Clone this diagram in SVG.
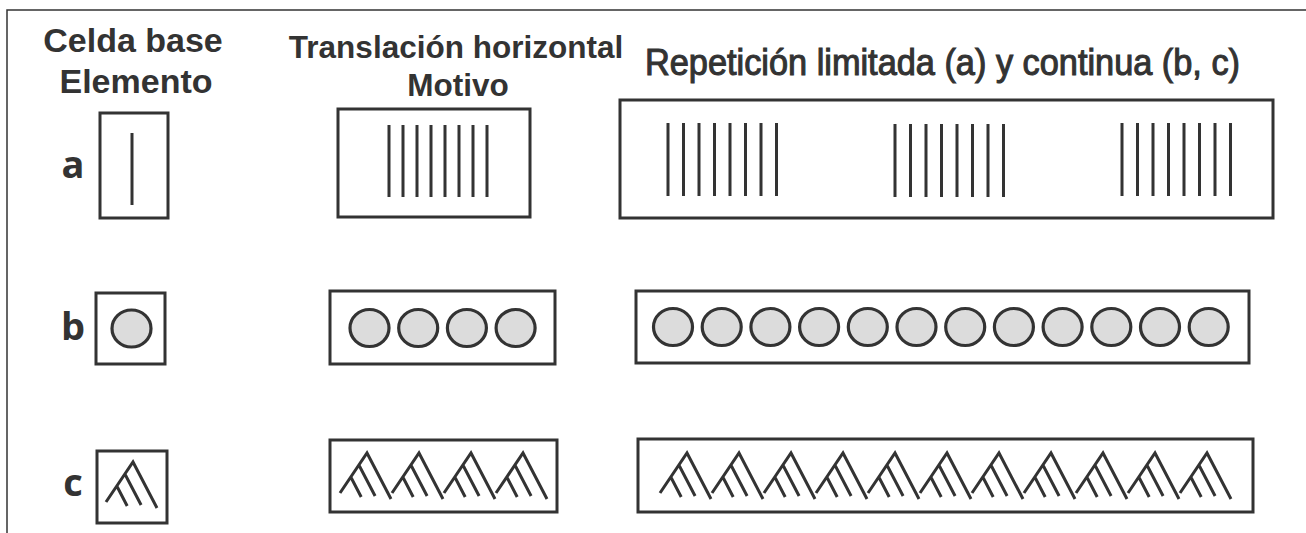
<svg xmlns="http://www.w3.org/2000/svg" xmlns:xlink="http://www.w3.org/1999/xlink" width="1306" height="533" viewBox="0 0 1306 533">
<style>
.box{fill:#fff;stroke:#333;stroke-width:3}
.ln{stroke:#333;stroke-width:3;fill:none}
.dot{fill:#dcdcdc;stroke:#333;stroke-width:3.2}
.hd{font-family:"Liberation Sans",Arial,sans-serif;font-weight:700;fill:#333;text-anchor:middle}
.lbl{font-family:"Open Sans","DejaVu Sans",sans-serif;font-weight:700;fill:#333;font-size:38px;text-anchor:middle}
.frame{stroke:#333;stroke-width:1.5;fill:none}
</style>
<defs>
<path id="motif" class="ln" d="M-27,40 L0,0 L24,46 M-8.1,12 L8.1,43 M-16.2,24 L-5.8,44"/>
<ellipse id="dot" class="dot" cx="0" cy="0" rx="19.5" ry="18.5"/>
<path id="bars" class="ln" d="M0,0v73M15.5,0v73M31,0v73M46.5,0v73M62,0v73M77.5,0v73M93,0v73M108.5,0v73"/>
</defs>
<path class="frame" d="M7,533V10H1306"/>
<g id="headers">
<text class="hd" x="133" y="52" font-size="34">Celda base</text>
<text class="hd" x="136" y="93" font-size="34">Elemento</text>
<text class="hd" x="456" y="58" font-size="31.5">Translación horizontal</text>
<text class="hd" x="458" y="96" font-size="31.5">Motivo</text>
<text x="645" y="75" font-family="Liberation Sans,Arial,sans-serif" font-size="37" fill="#333" stroke="#333" stroke-width="1.1" textLength="595" lengthAdjust="spacingAndGlyphs">Repetición limitada (a) y continua (b, c)</text>
</g>
<g id="row-a">
<text class="lbl" x="73" y="178">a</text>
<rect class="box" x="100" y="113" width="68" height="105"/>
<path class="ln" d="M132,133V205"/>
<rect class="box" x="338" y="109" width="192" height="108"/>
<path class="ln" d="M389,125v72M403,125v72M417,125v72M431,125v72M445,125v72M459,125v72M473,125v72M487,125v72"/>
<rect class="box" x="620" y="100" width="653" height="118"/>
<use xlink:href="#bars" x="668" y="123"/>
<use xlink:href="#bars" x="895" y="124"/>
<use xlink:href="#bars" x="1122" y="123"/>
</g>
<g id="row-b">
<text class="lbl" x="73" y="340">b</text>
<rect class="box" x="96" y="293" width="69" height="71"/>
<use xlink:href="#dot" x="131.5" y="328.5"/>
<rect class="box" x="330" y="291" width="225" height="73"/>
<use xlink:href="#dot" x="369.5" y="328"/>
<use xlink:href="#dot" x="418.2" y="328"/>
<use xlink:href="#dot" x="466.9" y="328"/>
<use xlink:href="#dot" x="515.6" y="328"/>
<rect class="box" x="636" y="291" width="613" height="72"/>
<use xlink:href="#dot" x="673" y="327"/>
<use xlink:href="#dot" x="721.7" y="327"/>
<use xlink:href="#dot" x="770.4" y="327"/>
<use xlink:href="#dot" x="819.1" y="327"/>
<use xlink:href="#dot" x="867.8" y="327"/>
<use xlink:href="#dot" x="916.5" y="327"/>
<use xlink:href="#dot" x="965.2" y="327"/>
<use xlink:href="#dot" x="1013.9" y="327"/>
<use xlink:href="#dot" x="1062.6" y="327"/>
<use xlink:href="#dot" x="1111.3" y="327"/>
<use xlink:href="#dot" x="1160" y="327"/>
<use xlink:href="#dot" x="1208.7" y="327"/>
</g>
<g id="row-c">
<text class="lbl" x="73" y="496">c</text>
<rect class="box" x="97" y="451" width="70" height="72"/>
<use xlink:href="#motif" x="133" y="462"/>
<rect class="box" x="330" y="440" width="227" height="72"/>
<use xlink:href="#motif" x="367" y="453"/>
<use xlink:href="#motif" x="419" y="453"/>
<use xlink:href="#motif" x="471" y="453"/>
<use xlink:href="#motif" x="523" y="453"/>
<rect class="box" x="638" y="439" width="615" height="73"/>
<use xlink:href="#motif" x="687" y="453"/>
<use xlink:href="#motif" x="739" y="453"/>
<use xlink:href="#motif" x="791" y="453"/>
<use xlink:href="#motif" x="843" y="453"/>
<use xlink:href="#motif" x="895" y="453"/>
<use xlink:href="#motif" x="947" y="453"/>
<use xlink:href="#motif" x="999" y="453"/>
<use xlink:href="#motif" x="1051" y="453"/>
<use xlink:href="#motif" x="1103" y="453"/>
<use xlink:href="#motif" x="1155" y="453"/>
<use xlink:href="#motif" x="1207" y="453"/>
</g>
</svg>
